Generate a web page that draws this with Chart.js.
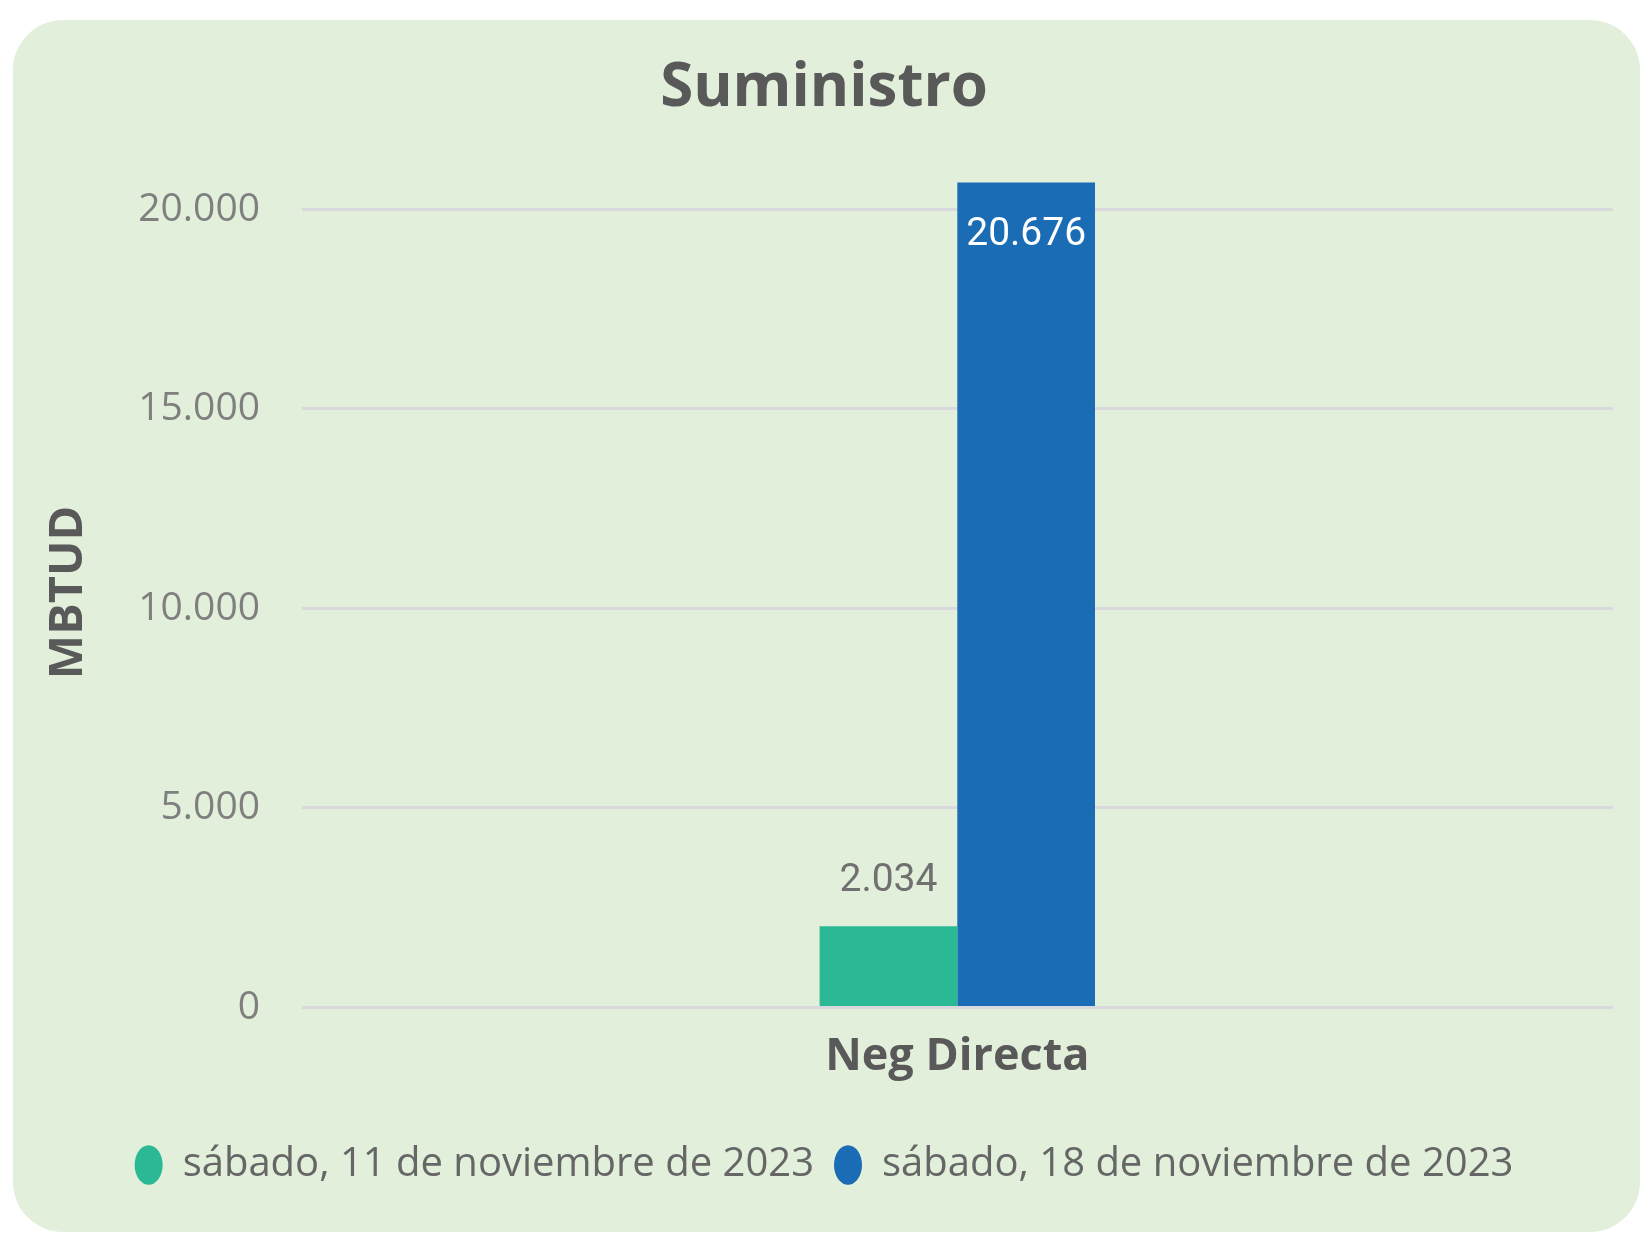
<!DOCTYPE html>
<html>
<head>
<meta charset="utf-8">
<script src="https://cdn.jsdelivr.net/npm/chart.js@4.4.0/dist/chart.umd.min.js"></script>
<style>
  html, body { margin: 0; padding: 0; background: #ffffff; }
  #panel {
    position: absolute; left: 13px; top: 20px;
    width: 1627px; height: 1212px;
    background: #e2efda; border-radius: 50px;
  }
  #chart { position: absolute; left: 0; top: 0; }
</style>
</head>
<body>
<div id="panel"></div>
<canvas id="chart" width="1642" height="1239"></canvas>
<script>
// chart data
const categories = ['Neg Directa'];
const seriesNames = ['sábado, 11 de noviembre de 2023', 'sábado, 18 de noviembre de 2023'];
const week1Values = [2034];
const week2Values = [20676];
const yTicks = [0, 5000, 10000, 15000, 20000];

const fmt = (n) => String(Math.round(n)).replace(/\B(?=(\d{3})+(?!\d))/g, '.');

// draws the value labels on the bars (no datalabels plugin available)
const valueLabels = {
  id: 'valueLabels',
  afterDatasetsDraw(chart) {
    const ctx = chart.ctx;
    chart.data.datasets.forEach((ds, i) => {
      chart.getDatasetMeta(i).data.forEach((bar, j) => {
        const inside = (bar.base - bar.y) > 120;
        ctx.save();
        ctx.font = '39px Roboto';
        ctx.textAlign = 'center';
        ctx.textBaseline = 'middle';
        ctx.fillStyle = inside ? '#ffffff' : '#707070';
        ctx.fillText(fmt(ds.data[j]), bar.x, inside ? bar.y + 53 : bar.y - 45);
        ctx.restore();
      });
    });
  }
};

new Chart(document.getElementById('chart'), {
  type: 'bar',
  data: {
    labels: categories,
    datasets: [
      { label: seriesNames[0], data: week1Values, backgroundColor: '#2bb894' },
      { label: seriesNames[1], data: week2Values, backgroundColor: '#1a6db5' },
    ],
  },
  options: {
    responsive: false,
    animation: false,
    devicePixelRatio: 1,
    categoryPercentage: 0.21,
    barPercentage: 1,
    layout: { padding: { left: 35, right: 29, top: 0, bottom: 44 } },
    plugins: {
      tooltip: { enabled: false },
      title: {
        display: true,
        text: 'Suministro',
        color: '#595959',
        font: { family: 'Open Sans', size: 60, weight: 'bold' },
        padding: { top: 53, bottom: 52.5 },
      },
      legend: {
        position: 'bottom',
        labels: {
          usePointStyle: true,
          pointStyle: 'circle',
          pointStyleWidth: 28,
          boxHeight: 28,
          padding: 20,
          color: '#666666',
          font: { family: 'Open Sans', size: 40 },
        },
      },
    },
    scales: {
      x: {
        grid: { display: false },
        border: { display: false },
        ticks: {
          color: '#595959',
          padding: 15,
          font: { family: 'Open Sans', size: 45, weight: 'bold' },
        },
        afterFit(s) { s.height = 117.6; },
      },
      y: {
        min: 0,
        max: 20800,
        ticks: {
          stepSize: 5000,
          padding: 41.6,
          color: '#7f7f7f',
          font: { family: 'Open Sans', size: 39 },
          callback: (v) => fmt(v),
        },
        afterBuildTicks(s) { s.ticks = yTicks.map(v => ({ value: v })); },
        afterFit(s) { s.width = 266.6; },
        grid: { color: '#d9d8dd', lineWidth: 3, drawTicks: false },
        border: { display: false },
        title: {
          display: true,
          text: 'MBTUD',
          color: '#595959',
          font: { family: 'Open Sans', size: 47, weight: 'bold' },
          padding: { top: 5.8, bottom: 0 },
        },
      },
    },
  },
  plugins: [valueLabels],
});
</script>
</body>
</html>
